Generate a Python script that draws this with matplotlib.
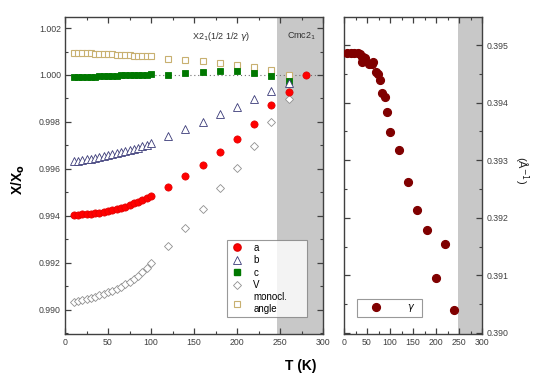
import matplotlib
matplotlib.use("Agg")
import matplotlib.pyplot as plt
from matplotlib.ticker import MultipleLocator
from matplotlib.lines import Line2D

plt.rcParams['font.family'] = ['Liberation Sans', 'DejaVu Sans']

# ---------------- data ----------------
T_low = [10, 15, 20, 25, 30, 35, 40, 45, 50, 55, 60, 65, 70, 75, 80, 85, 90, 95, 100]
T_high = [120, 140, 160, 180, 200, 220, 240, 260]

a_low = [0.99405, 0.99405, 0.99406, 0.99407, 0.99409, 0.99411, 0.99413, 0.99416, 0.99419,
         0.99423, 0.99428, 0.99433, 0.99439, 0.99446, 0.99453, 0.99460, 0.99468, 0.99477, 0.99486]
a_high = [0.99523, 0.99570, 0.99617, 0.99671, 0.99726, 0.99790, 0.99871, 0.99926]
a_ref_T = [280]
a_ref = [1.0000]

b_low = [0.99632, 0.99635, 0.99638, 0.99641, 0.99644, 0.99647, 0.99651, 0.99654, 0.99658,
         0.99662, 0.99666, 0.99671, 0.99676, 0.99681, 0.99686, 0.99691, 0.99697, 0.99703, 0.99709]
b_high = [0.99740, 0.99770, 0.99799, 0.99833, 0.99865, 0.99898, 0.99933, 0.99967]

c_low = [0.99990, 0.99990, 0.99991, 0.99992, 0.99993, 0.99993, 0.99994, 0.99995, 0.99996,
         0.99996, 0.99997, 0.99998, 0.99999, 0.99999, 1.00000, 1.00001, 1.00001, 1.00002, 1.00003]
c_high = [1.00002, 1.00010, 1.00012, 1.00016, 1.00016, 1.00010, 0.99995, 0.99975]

V_low = [0.99033, 0.99036, 0.99040, 0.99044, 0.99049, 0.99055, 0.99061, 0.99067, 0.99074,
         0.99082, 0.99090, 0.99099, 0.99109, 0.99120, 0.99132, 0.99145, 0.99160, 0.99178, 0.99200]
V_high = [0.99271, 0.99350, 0.99431, 0.99520, 0.99604, 0.99698, 0.99799, 0.99896]

m_low = [1.00094, 1.00094, 1.00093, 1.00092, 1.00092, 1.00091, 1.00090, 1.00090, 1.00089,
         1.00088, 1.00087, 1.00086, 1.00085, 1.00084, 1.00083, 1.00082, 1.00081, 1.00080, 1.00079]
m_high = [1.00070, 1.00066, 1.00060, 1.00051, 1.00044, 1.00034, 1.00021, 1.00000]

T_g = [5.8, 14.5, 21.7, 31, 34.8, 38.4, 42, 45.6, 38.4, 55, 60, 63.8, 69.6, 74.6, 78, 83, 89,
       94, 100, 119.6, 139.8, 159.4, 179.7, 219.6, 200, 239]
gamma = [0.39487, 0.39487, 0.39487, 0.39487, 0.39484, 0.39480, 0.39479, 0.39477, 0.39471,
         0.39468, 0.39467, 0.39470, 0.39453, 0.39450, 0.39439, 0.39417, 0.39410, 0.39384,
         0.39349, 0.39317, 0.39263, 0.39213, 0.39178, 0.39155, 0.39096, 0.39039]

T_trans = 247

# ---------------- figure ----------------
fig = plt.figure(figsize=(5.5, 3.81), dpi=100)
ax1 = fig.add_axes([65/550, 1-334/381, 258/550, 317/381])
ax2 = fig.add_axes([344/550, 1-334/381, 138/550, 317/381])

shade = '#c8c8c8'
edge = '#404040'

def style(ax):
    for s in ax.spines.values():
        s.set_color(edge)
        s.set_linewidth(1.0)
    ax.tick_params(which='both', direction='in', top=True, right=True,
                   colors=edge, labelcolor='#404040', labelsize=6.3, pad=3)
    ax.tick_params(which='major', length=4, width=0.9)
    ax.tick_params(which='minor', length=2.5, width=0.8)

# left panel
ax1.axvspan(T_trans, 300, color=shade, zorder=0, lw=0)
ax1.plot([100, 300], [1.0, 1.0], ls=(0, (1, 2.5)), color='#707070', lw=0.8, zorder=1)

ms = 5.2
ax1.plot(T_low + T_high, m_low + m_high, 's', ms=4.6, mfc='white', mec='#c8b070', mew=0.8, zorder=2)
ax1.plot(T_low + T_high, c_low + c_high, 's', ms=4.0, mfc='#007800', mec='#007800', mew=0.6, zorder=3)
ax1.plot(T_low + T_high, b_low + b_high, '^', ms=ms, mfc='white', mec='#3a3a78', mew=0.6, zorder=4)
ax1.plot(T_low + T_high, V_low + V_high, 'D', ms=4.2, mfc='white', mec='#909090', mew=0.6, zorder=4)
ax1.plot(T_low + T_high + a_ref_T, a_low + a_high + a_ref, 'o', ms=ms, mfc='#ff0000',
         mec='#e00000', mew=0.5, zorder=5)

ax1.set_xlim(0, 300)
ax1.set_ylim(0.98897, 1.00247)
ax1.xaxis.set_major_locator(MultipleLocator(50))
ax1.xaxis.set_minor_locator(MultipleLocator(25))
ax1.yaxis.set_major_locator(MultipleLocator(0.002))
ax1.yaxis.set_minor_locator(MultipleLocator(0.001))
ax1.yaxis.set_major_formatter(matplotlib.ticker.FormatStrFormatter('%.3f'))
style(ax1)

ax1.text(181, 1.00166, r'X2$_1$(1/2 1/2 $\gamma$)', fontsize=6.5, ha='center', va='center', color='#303030')
ax1.text(275, 1.00166, r'Cmc2$_1$', fontsize=6.5, ha='center', va='center', color='#303030')

handles = [
    Line2D([], [], ls='none', marker='o', ms=ms, mfc='#ff0000', mec='#e00000'),
    Line2D([], [], ls='none', marker='^', ms=ms, mfc='white', mec='#3a3a78', mew=0.6),
    Line2D([], [], ls='none', marker='s', ms=4.0, mfc='#007800', mec='#007800'),
    Line2D([], [], ls='none', marker='D', ms=4.2, mfc='white', mec='#909090', mew=0.6),
    Line2D([], [], ls='none', marker='s', ms=4.6, mfc='white', mec='#c8b070', mew=0.8),
]
leg = ax1.legend(handles, ['a', 'b', 'c', 'V', 'monocl.\nangle'], loc='lower left',
                 bbox_to_anchor=((227-65)/258, (334-317)/317, (307-227)/258, (317-231)/317),
                 mode='expand', fontsize=7, frameon=True, fancybox=False, borderpad=0.3,
                 labelspacing=0.25, handletextpad=0.9, borderaxespad=0, handlelength=1.5)
leg.get_frame().set_edgecolor('#808080')
leg.get_frame().set_linewidth(0.8)

# right panel
ax2.axvspan(T_trans, 300, color=shade, zorder=0, lw=0)
ax2.plot(T_g, gamma, 'o', ms=5.6, mfc='#800000', mec='#800000', zorder=3)
ax2.set_xlim(0, 300)
ax2.set_ylim(0.38998, 0.39549)
ax2.xaxis.set_major_locator(MultipleLocator(50))
ax2.xaxis.set_minor_locator(MultipleLocator(25))
ax2.yaxis.set_major_locator(MultipleLocator(0.001))
ax2.yaxis.set_minor_locator(MultipleLocator(0.0005))
ax2.yaxis.set_major_formatter(matplotlib.ticker.FormatStrFormatter('%.3f'))
style(ax2)
ax2.tick_params(axis='y', labelleft=False, labelright=True)

gh = [Line2D([], [], ls='none', marker='o', ms=5.6, mfc='#800000', mec='#800000')]
leg2 = ax2.legend(gh, [r'$\gamma$'], loc='lower left',
                  bbox_to_anchor=((357-344)/138, (334-317)/317, (422-357)/138, (317-297)/317),
                  mode='expand', fontsize=7, frameon=True, fancybox=False, borderpad=0.3,
                  handletextpad=1.4, borderaxespad=0, handlelength=3.4)
leg2.get_frame().set_edgecolor('#808080')
leg2.get_frame().set_linewidth(0.8)

fig.text(301/550, 1-366/381, 'T (K)', fontsize=10, fontweight='bold', ha='center', va='center')
fig.text(18/550, 1-180/381, r'X/X$_\mathbf{o}$', fontsize=10, fontweight='bold',
         ha='center', va='center', rotation=90)
fig.text(521/550, 1-170/381, r'(Å$^{-1}$)', fontsize=8, ha='center', va='center',
         rotation=-90, color='#202020')

fig.savefig('out.png', dpi=100)
